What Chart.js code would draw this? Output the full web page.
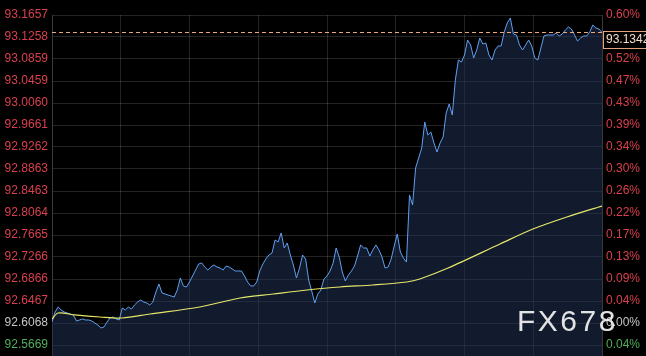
<!DOCTYPE html>
<html>
<head>
<meta charset="utf-8">
<script src="https://cdn.jsdelivr.net/npm/chart.js@4/dist/chart.umd.min.js"></script>
<style>
html,body{margin:0;padding:0;background:#000;overflow:hidden;}
#c{display:block;}
</style>
</head>
<body>
<canvas id="c" width="646" height="356"></canvas>
<script>
// Price samples every 8 minutes over 24 hours
const stepMinutes = 8;
const prices = [
92.6086,92.6268,92.6359,92.6304,92.6268,92.6250,92.6232,92.6214,92.6105,92.6123,
92.6141,92.6123,92.6123,92.6105,92.6068,92.6032,92.5978,92.5996,92.6086,92.6159,
92.6177,92.6141,92.6123,92.6341,92.6304,92.6359,92.6322,92.6395,92.6449,92.6486,
92.6449,92.6431,92.6395,92.6449,92.6631,92.6776,92.6613,92.6595,92.6576,92.6558,
92.6540,92.6667,92.6885,92.6740,92.6722,92.6812,92.6921,92.7030,92.7139,92.7157,
92.7084,92.7030,92.7084,92.7121,92.7084,92.7066,92.7030,92.7103,92.7084,92.7048,
92.7012,92.7012,92.7012,92.6921,92.6812,92.6740,92.6740,92.6812,92.7012,92.7139,
92.7230,92.7302,92.7338,92.7574,92.7538,92.7701,92.7429,92.7520,92.7302,92.7121,
92.6885,92.7066,92.7302,92.7230,92.6849,92.6649,92.6431,92.6595,92.6667,92.6867,
92.6921,92.7012,92.7157,92.7429,92.7266,92.6994,92.6830,92.6939,92.7012,92.7103,
92.7284,92.7484,92.7429,92.7429,92.7284,92.7393,92.7484,92.7393,92.7266,92.7066,
92.7084,92.7230,92.7466,92.7683,92.7357,92.7248,92.7175,92.8391,92.8209,92.8881,
92.9062,92.9244,92.9715,92.9480,92.9534,92.9334,92.9171,92.9334,92.9443,92.9879,
93.0042,92.9842,93.0478,93.0840,93.0804,93.0931,93.1203,93.1113,93.0877,93.1022,
93.1240,93.1131,93.1149,93.0931,93.0840,93.1022,93.1095,93.1095,93.1349,93.1512,
93.1603,93.1312,93.1294,93.1113,93.1022,93.1113,93.1203,93.1095,93.0877,93.0840,
93.1058,93.1276,93.1294,93.1294,93.1294,93.1330,93.1276,93.1312,93.1385,93.1439,
93.1403,93.1294,93.1185,93.1240,93.1276,93.1276,93.1349,93.1476,93.1421,93.1403,
93.1342
];
// Moving average line (minutes, value)
const maMinutes = [0,16,60,126,183,257,387,492,579,668,754,840,929,963,1037,1173,1259,1348,1440];
const maValues  = [92.6141,92.6250,92.6214,92.6177,92.6159,92.6232,92.6359,92.6522,92.6595,92.6667,92.6722,92.6758,92.6812,92.6867,92.7066,92.7502,92.7774,92.7992,92.8191];

const leftTickLabels = ['93.1657','93.1258','93.0859','93.0459','93.0060','92.9661','92.9262','92.8863','92.8463','92.8064','92.7665','92.7266','92.6866','92.6467','92.6068','92.5669'];
const rightTickLabels = ['0.60%','0.56%','0.52%','0.47%','0.43%','0.39%','0.34%','0.30%','0.26%','0.22%','0.17%','0.13%','0.09%','0.04%','0.00%','0.04%'];
const basePrice = 92.6068;
const lastPrice = 93.1342;
const lastPriceLabel = '93.1342';
const watermark = 'FX678';

const tickValues = leftTickLabels.map(Number);
const yMax = 93.1657, yMin = 92.54695;

const priceData = prices.map((v,i)=>({x:i*stepMinutes, y:v}));
const maData = maMinutes.map((m,i)=>({x:m, y:maValues[i]}));

const RED = '#d8404e', GRAY = '#c4c4c4', GREEN = '#4fae5a';
function tickColor(ctx){
  const v = tickValues[ctx.index];
  if (v === undefined) return RED;
  if (Math.abs(v-basePrice) < 1e-6) return GRAY;
  return v > basePrice ? RED : GREEN;
}
function setTicks(scale){
  scale.ticks = tickValues.map(v=>({value:v}));
}
function fitY(w){
  return function(s){
    s.width = w;
    s.paddingTop = 0; s.paddingBottom = 0;
  };
}

const overlay = {
  id:'overlay',
  afterDatasetsDraw(chart){
    const {ctx, chartArea:a, scales} = chart;
    const y = scales.y.getPixelForValue(lastPrice);
    ctx.save();
    ctx.strokeStyle = '#eda57a';
    ctx.lineWidth = 1;
    ctx.setLineDash([4,3]);
    ctx.beginPath();
    ctx.moveTo(a.left, Math.round(y)+0.5);
    ctx.lineTo(a.right, Math.round(y)+0.5);
    ctx.stroke();
    ctx.restore();
  },
  afterDraw(chart){
    const {ctx, chartArea:a, scales} = chart;
    const y = Math.round(scales.y.getPixelForValue(lastPrice));
    ctx.save();
    ctx.fillStyle = '#000';
    ctx.fillRect(a.right+1, y-1, 60, 17);
    ctx.strokeStyle = '#e3a37c';
    ctx.lineWidth = 1;
    ctx.strokeRect(a.right+1.5, y-0.5, 60, 17);
    ctx.fillStyle = '#f3dcc6';
    ctx.font = '12px "Liberation Sans", Arial, sans-serif';
    ctx.textBaseline = 'middle';
    ctx.textAlign = 'left';
    ctx.fillText(lastPriceLabel, a.right+4, y+8);
    ctx.font = '30px "Liberation Sans", Arial, sans-serif';
    ctx.fillStyle = 'rgba(238,238,238,0.95)';
    ctx.textBaseline = 'alphabetic';
    let x = 517;
    for (const ch of watermark){
      ctx.fillText(ch, x, 331);
      x += ctx.measureText(ch).width + 2.5;
    }
    ctx.restore();
  }
};

new Chart(document.getElementById('c'), {
  type:'line',
  data:{
    datasets:[
      {label:'MA', data:maData, borderColor:'#e6e66a', borderWidth:1.2, pointRadius:0, fill:false, tension:0.3, order:0},
      {label:'Price', data:priceData, borderColor:'#5f9ff0', borderWidth:1, pointRadius:0, tension:0,
       fill:'start', backgroundColor:'rgba(32,50,82,0.55)', order:1}
    ]
  },
  options:{
    responsive:false,
    animation:false,
    devicePixelRatio:1,
    layout:{padding:{top:15,left:0,right:0,bottom:0}},
    plugins:{legend:{display:false}, tooltip:{enabled:false}},
    scales:{
      x:{type:'linear', min:0, max:1440,
         ticks:{display:false, stepSize:180},
         grid:{color:'rgba(255,255,255,0.14)', drawTicks:false, lineWidth:1},
         border:{display:false},
         afterFit(s){s.height=0; s.paddingLeft=0; s.paddingRight=0;}
      },
      y:{position:'left', min:yMin, max:yMax,
         afterBuildTicks:setTicks,
         afterFit:fitY(52),
         ticks:{autoSkip:false, padding:4, color:tickColor,
                font:{family:'"Liberation Sans", Arial, sans-serif', size:12},
                callback:(v,i)=>leftTickLabels[i]},
         grid:{color:'rgba(255,255,255,0.14)', drawTicks:false},
         border:{display:true, color:'#3a3a3a'}
      },
      y2:{position:'right', min:yMin, max:yMax,
         afterBuildTicks:setTicks,
         afterFit:fitY(44),
         ticks:{autoSkip:false, padding:4, color:tickColor,
                font:{family:'"Liberation Sans", Arial, sans-serif', size:12},
                callback:(v,i)=>rightTickLabels[i]},
         grid:{display:false, drawTicks:false},
         border:{display:true, color:'#3a3a3a'}
      }
    }
  },
  plugins:[overlay]
});
</script>
</body>
</html>
